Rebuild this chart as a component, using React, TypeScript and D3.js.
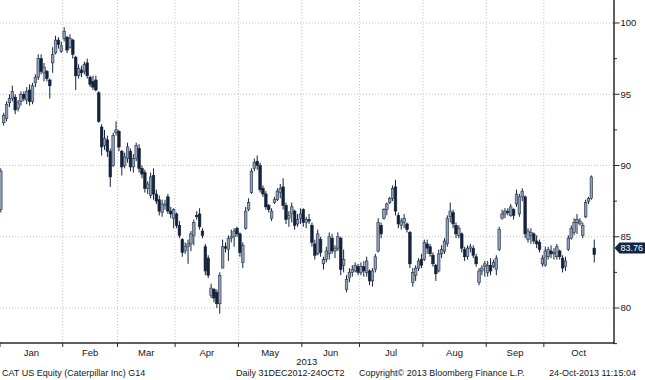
import React from "react";
import * as d3 from "d3";

// Month labels on the time axis and trading days contained in each period (Dec 31, Jan..Oct)
const monthLabels = ["Jan", "Feb", "Mar", "Apr", "May", "Jun", "Jul", "Aug", "Sep", "Oct"];
const tradingDaysPerPeriod = [1, 21, 19, 20, 22, 22, 20, 22, 22, 20, 18];
const priceTicks = [80, 85, 90, 95, 100];
const minorPriceTicks = [77.5, 82.5, 87.5, 92.5, 97.5];
const yearLabel = "2013";
const lastPrice = 83.76;
const footerLeft = "CAT US Equity (Caterpillar Inc) G14";
const footerMid = "Daily 31DEC2012-24OCT2";
const footerCopy = "Copyright\u00A9 2013 Bloomberg Finance L.P.";
const footerTime = "24-Oct-2013 11:15:04";

// Daily candles [open, high, low, close]
const ohlc: [number, number, number, number][] = [
  // Dec 31
  [86.9, 89.8, 86.7, 89.6],
  // Jan
  [93.0, 93.7, 92.8, 93.5], [93.3, 94.5, 93.1, 94.3], [94.4, 95.0, 94.1, 94.7], [94.7, 95.6, 94.5, 95.2],
  [94.8, 95.0, 93.6, 93.9], [94.0, 94.6, 93.8, 94.4], [94.5, 95.2, 94.2, 95.0], [95.0, 95.2, 94.5, 94.7],
  [94.6, 95.5, 94.3, 95.2], [95.3, 95.7, 94.2, 94.5], [94.5, 95.8, 94.3, 95.6], [95.8, 96.4, 95.5, 96.2],
  [96.2, 97.8, 96.0, 97.5], [97.5, 97.8, 96.4, 96.6], [96.5, 97.2, 95.9, 96.9], [96.6, 96.7, 95.9, 96.1],
  [96.0, 96.1, 94.7, 95.6], [97.2, 98.3, 96.5, 97.8], [97.9, 99.1, 97.8, 98.8], [98.8, 99.0, 98.2, 98.5],
  [98.0, 98.7, 97.9, 98.4],
  // Feb
  [98.9, 99.7, 98.7, 99.4], [99.0, 99.1, 97.9, 98.1], [98.3, 99.2, 98.2, 98.9], [98.8, 98.9, 97.5, 97.8],
  [97.6, 97.7, 95.3, 96.3], [96.3, 97.1, 96.1, 96.8], [96.7, 97.0, 96.2, 96.5], [96.6, 97.3, 96.4, 97.1],
  [97.2, 97.5, 96.1, 96.3], [96.2, 96.3, 95.5, 95.7], [95.9, 96.3, 95.3, 95.5], [96.0, 96.3, 95.2, 95.3],
  [95.1, 95.2, 93.0, 93.1], [92.7, 92.9, 90.7, 91.3], [91.4, 92.5, 91.1, 91.9], [91.8, 92.1, 90.6, 91.0],
  [91.0, 91.2, 88.5, 89.2], [90.0, 92.3, 89.9, 92.1], [92.3, 93.1, 92.1, 92.5],
  // Mar
  [92.4, 92.5, 91.0, 91.3], [91.0, 91.1, 89.3, 89.9], [90.0, 90.9, 89.8, 90.6], [90.5, 91.6, 90.2, 91.3],
  [91.0, 91.2, 89.6, 89.9], [89.9, 90.8, 89.5, 90.5], [90.5, 91.6, 90.3, 91.4], [91.2, 91.5, 89.5, 89.8],
  [89.8, 90.0, 89.1, 89.4], [89.5, 89.7, 88.1, 88.4], [88.4, 88.9, 88.0, 88.7], [87.9, 89.5, 87.7, 89.2],
  [89.3, 89.8, 87.6, 88.0], [88.0, 88.3, 87.3, 87.5], [87.6, 87.9, 86.5, 86.8], [86.7, 87.6, 86.4, 87.3],
  [87.2, 87.6, 86.9, 87.3], [87.8, 88.0, 86.6, 86.8], [86.8, 87.1, 86.3, 86.6], [86.3, 87.0, 85.6, 86.9],
  // Apr
  [86.6, 86.7, 85.6, 85.8], [85.8, 86.1, 84.9, 85.1], [84.8, 84.9, 83.6, 83.9], [84.0, 84.6, 83.8, 84.3],
  [84.3, 84.8, 83.1, 84.5], [84.5, 85.4, 84.0, 85.2], [85.1, 86.2, 84.4, 86.0], [86.5, 86.8, 86.2, 86.4],
  [86.6, 87.0, 85.5, 85.7], [85.4, 85.6, 84.9, 85.1], [84.3, 84.5, 82.3, 82.6], [83.5, 83.7, 82.1, 82.3],
  [80.9, 81.7, 80.7, 81.4], [81.3, 81.4, 80.4, 80.7], [81.1, 81.3, 80.0, 80.3], [80.3, 82.5, 79.6, 82.3],
  [82.8, 84.8, 82.8, 84.3], [84.3, 84.6, 83.9, 84.2], [84.1, 85.1, 83.3, 84.9], [84.9, 85.5, 84.6, 85.0],
  [85.0, 85.6, 84.3, 85.4], [85.6, 85.7, 85.0, 85.2],
  // May
  [85.2, 85.3, 83.6, 83.9], [83.2, 84.6, 82.8, 84.4], [85.6, 87.1, 85.5, 86.8], [86.9, 87.7, 86.8, 87.4],
  [88.1, 89.8, 88.0, 89.6], [89.8, 90.5, 89.6, 90.2], [90.3, 90.7, 89.7, 90.0], [90.0, 90.2, 88.1, 88.3],
  [88.4, 88.6, 87.8, 88.0], [88.0, 88.2, 86.9, 87.1], [87.2, 87.3, 86.7, 86.9], [86.3, 87.0, 86.1, 86.8],
  [87.4, 87.8, 87.3, 87.6], [87.6, 88.4, 87.5, 88.2], [88.1, 88.7, 87.7, 88.4], [88.5, 89.1, 86.9, 87.2],
  [87.2, 87.4, 85.9, 86.2], [86.3, 86.8, 85.7, 86.5], [86.6, 87.4, 86.0, 87.1], [86.8, 86.9, 85.5, 85.8],
  [85.9, 86.6, 85.7, 86.2], [86.3, 87.0, 85.9, 86.6],
  // Jun
  [86.9, 87.0, 85.7, 86.0], [86.0, 86.4, 85.6, 86.2], [86.2, 86.6, 85.9, 86.1], [85.8, 86.0, 84.3, 84.6],
  [84.5, 84.8, 83.4, 83.7], [83.8, 85.5, 83.7, 85.2], [84.8, 85.0, 83.6, 83.9], [83.1, 83.6, 82.7, 83.4],
  [83.4, 84.3, 83.2, 84.0], [83.8, 85.3, 83.4, 85.0], [84.9, 85.2, 83.8, 84.0], [84.0, 84.4, 83.5, 84.2],
  [84.2, 85.3, 84.0, 85.0], [84.9, 85.0, 82.3, 82.7], [83.0, 84.1, 82.5, 83.4], [81.3, 82.3, 81.1, 82.0],
  [82.1, 82.8, 81.8, 82.5], [82.5, 83.0, 82.2, 82.7], [82.6, 83.2, 82.5, 83.0], [82.9, 83.1, 82.3, 82.5],
  // Jul
  [82.5, 83.2, 82.3, 82.9], [82.9, 83.3, 82.2, 82.6], [82.5, 83.6, 82.2, 83.3], [82.6, 82.7, 81.6, 81.9],
  [81.9, 82.8, 81.5, 82.6], [82.7, 83.8, 82.5, 83.6], [84.0, 86.3, 83.9, 86.0], [85.8, 86.0, 84.9, 85.2],
  [86.3, 87.0, 86.2, 86.9], [86.9, 87.4, 86.5, 87.3], [87.4, 87.8, 87.3, 87.7], [87.7, 88.6, 87.5, 88.4],
  [88.5, 89.0, 86.5, 86.8], [86.5, 86.7, 85.6, 85.9], [85.8, 86.3, 85.5, 86.1], [86.0, 86.6, 85.6, 86.3],
  [85.9, 86.0, 85.3, 85.5], [85.3, 85.4, 82.8, 83.1], [81.8, 82.8, 81.5, 82.5], [82.3, 83.0, 81.9, 82.8],
  [82.8, 83.5, 82.6, 83.3], [83.4, 83.8, 82.8, 83.0],
  // Aug
  [83.4, 84.8, 83.3, 84.6], [84.5, 84.8, 83.8, 84.2], [84.3, 84.5, 83.6, 83.8], [83.7, 83.9, 82.9, 83.1],
  [83.0, 83.1, 81.9, 82.4], [82.6, 84.1, 82.5, 83.8], [83.8, 84.4, 83.5, 84.1], [84.0, 84.9, 83.8, 84.7],
  [84.5, 86.5, 84.3, 86.3], [86.4, 87.4, 86.0, 86.8], [86.7, 86.9, 85.6, 85.9], [85.8, 86.0, 84.9, 85.2],
  [85.1, 85.8, 84.9, 85.6], [85.2, 85.3, 83.9, 84.2], [84.1, 84.3, 83.3, 83.6], [83.6, 84.4, 83.4, 84.2],
  [84.2, 84.5, 83.9, 84.3], [84.2, 84.4, 83.5, 83.7], [83.6, 83.8, 82.9, 83.1], [81.8, 82.8, 81.6, 82.6],
  [82.6, 83.0, 82.3, 82.8], [82.9, 83.3, 82.2, 83.1],
  // Sep
  [82.5, 83.3, 82.2, 83.0], [83.0, 83.5, 82.3, 82.6], [82.9, 83.4, 82.8, 83.2], [82.7, 83.7, 82.3, 83.5],
  [84.1, 85.7, 84.0, 85.5], [86.3, 86.9, 86.2, 86.6], [86.6, 87.0, 86.3, 86.8], [86.8, 87.0, 86.5, 86.7],
  [86.5, 87.3, 86.4, 87.1], [86.9, 87.0, 86.2, 86.5], [87.3, 88.3, 87.1, 88.0], [86.6, 88.0, 86.4, 87.8],
  [87.8, 88.4, 87.5, 88.2], [87.8, 87.9, 84.9, 85.2], [84.8, 85.6, 84.6, 85.4], [85.1, 85.6, 84.5, 85.3],
  [85.2, 85.3, 84.5, 84.7], [84.7, 85.1, 84.2, 84.5], [84.6, 84.8, 83.9, 84.1], [83.1, 83.7, 82.9, 83.5],
  // Oct
  [83.0, 84.3, 82.9, 84.0], [83.6, 84.3, 83.4, 84.1], [84.0, 84.4, 83.5, 83.8], [83.8, 84.2, 83.4, 83.9],
  [83.6, 84.5, 83.4, 84.3], [84.0, 84.1, 83.4, 83.6], [83.5, 83.7, 82.5, 82.8], [82.9, 83.6, 82.6, 83.3],
  [84.1, 85.1, 84.0, 84.9], [84.9, 85.8, 84.8, 85.6], [85.3, 86.3, 85.1, 86.0], [86.0, 86.6, 85.2, 86.2],
  [85.9, 86.3, 85.8, 86.1], [85.1, 86.0, 84.9, 85.8], [86.4, 87.6, 86.3, 87.4], [87.5, 87.8, 87.3, 87.7],
  [87.7, 89.3, 87.6, 89.2], [84.2, 84.8, 83.2, 83.76],
];

const W = 645;
const H = 380;
const plotRight = 613.5;
const plotBottom = 343;

const UP_FILL = "#909fb5";
const UP_STROKE = "#22314a";
const DOWN_FILL = "#13223a";
const GRID = "#c3c3c3";
const AXIS = "#2a2a2a";
const TEXT = "#161616";
const FONT = "'Liberation Sans', Arial, sans-serif";

export default function App() {
  const x = d3.scaleLinear().domain([0, 212.5]).range([0.8, 613]);
  const y = d3.scaleLinear().domain([80, 100]).range([308, 23]);

  // month boundaries in index space
  const ends = Array.from(d3.cumsum(tradingDaysPerPeriod));
  const boundaries = ends.slice(0, -1).map((s) => s - 0.5); // start of Jan..Oct
  const monthEdges = boundaries.map((b) => x(b));
  const tickXs = [0, ...monthEdges.slice(1)];
  const labelEdges = [0, ...monthEdges.slice(1), plotRight];

  const bodyW = 2.6;
  const tagY = y(lastPrice) - 6.5;

  return (
    <svg
      width={W}
      height={H}
      style={{ position: "fixed", left: 0, top: 0, background: "#fff" }}
      fontFamily={FONT}
    >
      <rect x={0} y={0} width={W} height={H} fill="#fff" />
      <defs>
        <clipPath id="plotClip">
          <rect x={0} y={0} width={plotRight} height={plotBottom} />
        </clipPath>
      </defs>

      {/* grid */}
      {priceTicks.map((t) => (
        <line key={"hg" + t} x1={0} x2={plotRight} y1={y(t)} y2={y(t)} stroke={GRID} strokeWidth={1} strokeDasharray="1 2" />
      ))}
      {monthEdges.slice(1).map((mx, i) => (
        <line key={"vg" + i} x1={mx} x2={mx} y1={0} y2={plotBottom} stroke={GRID} strokeWidth={1} strokeDasharray="1 2" />
      ))}

      {/* candles */}
      <g clipPath="url(#plotClip)">
        {ohlc.map(([o, h, l, c], i) => {
          const cx = x(i);
          const up = c >= o;
          const top = y(Math.max(o, c));
          const bot = y(Math.min(o, c));
          return (
            <g key={i}>
              <line x1={cx} x2={cx} y1={y(h)} y2={y(l)} stroke={DOWN_FILL} strokeWidth={1} />
              <rect
                x={cx - bodyW / 2}
                y={top}
                width={bodyW}
                height={Math.max(1, bot - top)}
                fill={up ? UP_FILL : DOWN_FILL}
                stroke={up ? UP_STROKE : DOWN_FILL}
                strokeWidth={0.6}
              />
            </g>
          );
        })}
      </g>

      {/* axes */}
      <line x1={plotRight + 0.5} x2={plotRight + 0.5} y1={0} y2={plotBottom + 1} stroke={AXIS} strokeWidth={1.5} />
      <line x1={0} x2={plotRight + 1} y1={plotBottom} y2={plotBottom} stroke={AXIS} strokeWidth={1.5} />

      {priceTicks.map((t) => (
        <g key={"yt" + t}>
          <line x1={plotRight} x2={plotRight + 6} y1={y(t)} y2={y(t)} stroke={AXIS} strokeWidth={1} />
          <text x={plotRight + 7} y={y(t)} dy="0.35em" fontSize={9.5} fill={TEXT}>
            {t}
          </text>
        </g>
      ))}
      {minorPriceTicks.map((t) => (
        <line key={"ym" + t} x1={plotRight} x2={plotRight + 3.5} y1={y(t)} y2={y(t)} stroke={AXIS} strokeWidth={1} />
      ))}

      {tickXs.map((tx, i) => (
        <line key={"xt" + i} x1={tx} x2={tx} y1={plotBottom} y2={plotBottom + 4} stroke={AXIS} strokeWidth={1} />
      ))}
      {monthLabels.map((m, i) => (
        <text
          key={m}
          x={(labelEdges[i] + labelEdges[i + 1]) / 2}
          y={plotBottom + 13}
          textAnchor="middle"
          fontSize={9.5}
          fill={TEXT}
        >
          {m}
        </text>
      ))}
      <text x={plotRight / 2} y={plotBottom + 22} textAnchor="middle" fontSize={9.5} fill={TEXT}>
        {yearLabel}
      </text>

      {/* last price tag */}
      <path
        d={`M${plotRight + 1},${tagY} L${plotRight + 6},${tagY - 5.5} L${W},${tagY - 5.5} L${W},${tagY + 5.5} L${plotRight + 6},${tagY + 5.5} Z`}
        fill="#0f2744"
      />
      <text x={plotRight + 7} y={tagY} dy="0.35em" fontSize={9} fill="#ffffff">
        {lastPrice.toFixed(2)}
      </text>

      {/* footer */}
      <text x={2} y={376} fontSize={9} fill={TEXT}>{footerLeft}</text>
      <text x={236} y={376} fontSize={9} fill={TEXT}>{footerMid}</text>
      <text x={359} y={376} fontSize={9} fill={TEXT}>{footerCopy}</text>
      <text x={549} y={376} fontSize={9} fill={TEXT}>{footerTime}</text>
    </svg>
  );
}
